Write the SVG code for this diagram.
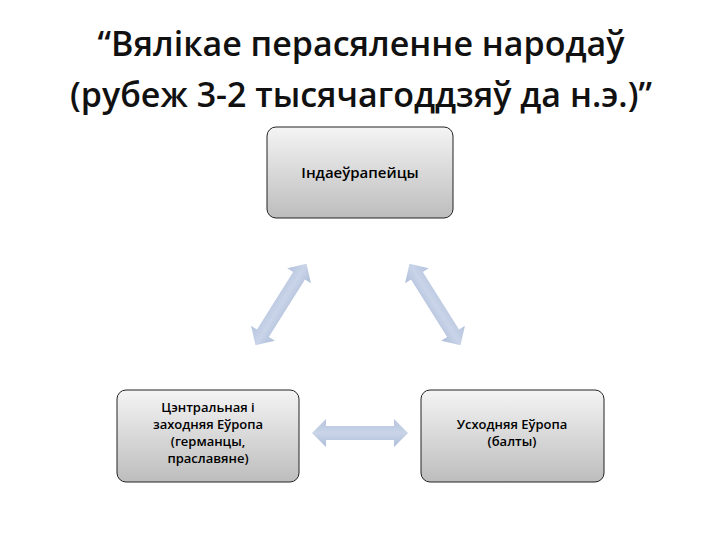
<svg xmlns="http://www.w3.org/2000/svg" width="720" height="540" viewBox="0 0 720 540">
<defs>
<linearGradient id="g" x1="0" y1="0" x2="0" y2="1"><stop offset="0" stop-color="#f4f4f4"/><stop offset="1" stop-color="#bdbdbd"/></linearGradient>
<linearGradient id="a" x1="0" y1="0" x2="0" y2="1"><stop offset="0" stop-color="#b4c3dd"/><stop offset="0.5" stop-color="#c9d4e8"/><stop offset="1" stop-color="#adbdd9"/></linearGradient>
<polygon id="dbl" points="-48,0 -34,-14 -34,-7 34,-7 34,-14 48,0 34,14 34,7 -34,7 -34,14" fill="url(#a)"/>
</defs>
<style>
.box{fill:url(#g);stroke:#222;stroke-width:1}
.t{font-family:"Open Sans","DejaVu Sans",sans-serif;font-size:13px;font-weight:600;fill:#000;text-anchor:middle}
.h{font-family:"Open Sans","Liberation Sans",sans-serif;font-size:34px;font-weight:600;fill:#111;text-anchor:middle}
</style>
<rect width="720" height="540" fill="#fff"/>
<text class="h" x="361" y="56">“Вялікае перасяленне народаў</text>
<text class="h" x="361" y="107">(рубеж 3-2 тысячагоддзяў да н.э.)”</text>
<g id="connectors">
<use href="#dbl" transform="translate(281,304.5) rotate(-57.9)"/>
<use href="#dbl" transform="translate(435,304.5) rotate(57.9)"/>
<use href="#dbl" transform="translate(360,433)"/>
</g>
<g id="n1"><rect class="box" x="267" y="127" width="186" height="91" rx="9"/><text class="t" x="360" y="178" style="font-size:15px">Індаеўрапейцы</text></g>
<g id="n2"><rect class="box" x="117" y="390" width="182" height="92" rx="9"/>
<text class="t" x="208" y="412">Цэнтральная і</text><text class="t" x="208" y="429">заходняя Еўропа</text><text class="t" x="208" y="446">(германцы,</text><text class="t" x="208" y="463">праславяне)</text></g>
<g id="n3"><rect class="box" x="421" y="390" width="183" height="92" rx="9"/>
<text class="t" x="512" y="429">Усходняя Еўропа</text><text class="t" x="512" y="446">(балты)</text></g>
</svg>
